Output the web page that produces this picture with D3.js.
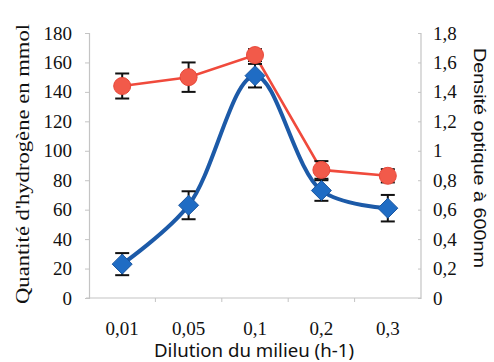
<!DOCTYPE html>
<html>
<head>
<meta charset="utf-8">
<script src="https://cdn.jsdelivr.net/npm/d3@7"></script>
<style>
  html, body { margin: 0; padding: 0; background: #fff; }
  svg { display: block; }
</style>
</head>
<body>
<script>
// Dilution rates (h-1)
const categories = ["0,01", "0,05", "0,1", "0,2", "0,3"];
// Hydrogen produced (mmol), left axis
const hydrogen = [144, 150, 165, 87, 83];
const hydrogenErr = [8.5, 10, 4, 6, 4.5];
// Optical density at 600 nm, right axis
const density = [0.23, 0.63, 1.51, 0.73, 0.61];
const densityErr = [0.075, 0.095, 0.08, 0.07, 0.09];
// Tick labels
const leftTicks = [0, 20, 40, 60, 80, 100, 120, 140, 160, 180];
const rightTicks = [0, 0.2, 0.4, 0.6, 0.8, 1, 1.2, 1.4, 1.6, 1.8];

const W = 494, H = 362;
const m = { left: 89, right: 73, top: 33, bottom: 64 };
const SERIF = "Liberation Serif, Tinos, serif";

const svg = d3.select("body").append("svg").attr("width", W).attr("height", H);

const x = d3.scaleBand().domain(categories).range([m.left, W - m.right]);
const yL = d3.scaleLinear().domain([0, 180]).range([H - m.bottom, m.top]);
const yR = d3.scaleLinear().domain([0, 1.8]).range([H - m.bottom, m.top]);
const cx = c => x(c) + x.bandwidth() / 2;

const axisColor = "#c4c4c4";

// Left axis
const gL = svg.append("g").attr("transform", `translate(${m.left},0)`)
  .call(d3.axisLeft(yL).tickValues(leftTicks).tickSize(4).tickPadding(13));
// Right axis (ticks pointing inward)
const gR = svg.append("g").attr("transform", `translate(${W - m.right},0)`)
  .call(d3.axisRight(yR).tickValues(rightTicks).tickSize(-3).tickPadding(12)
    .tickFormat(d => d3.format(".1f")(d).replace(".", ",").replace(",0", "")));
// Bottom axis: ticks on category boundaries
const gB = svg.append("g").attr("transform", `translate(0,${H - m.bottom})`)
  .call(d3.axisBottom(x).tickSize(0).tickPadding(24));
gB.selectAll(".bound").data(categories.slice(1)).enter().append("line")
  .attr("class", "bound")
  .attr("x1", d => x(d)).attr("x2", d => x(d))
  .attr("y1", 0).attr("y2", 4)
  .attr("stroke", axisColor);

[gL, gR, gB].forEach(g => {
  g.attr("font-family", SERIF).attr("font-size", 19);
  g.selectAll(".domain").attr("stroke", axisColor).attr("stroke-width", 1.2);
  g.selectAll(".tick line").attr("stroke", axisColor);
  g.selectAll("text").attr("fill", "#111");
});
gR.select(".domain").attr("d", `M0,${H - m.bottom + 1}V${m.top}`);
gB.select(".domain").attr("d", `M${m.left - 3},0H${W - m.right}`);

// Axis titles
svg.append("text")
  .attr("transform", `translate(29,${164}) rotate(-90)`)
  .attr("text-anchor", "middle")
  .attr("textLength", 280).attr("lengthAdjust", "spacingAndGlyphs")
  .attr("font-family", SERIF).attr("font-size", 19).attr("fill", "#111")
  .text("Quantité d'hydrogène en mmol");

svg.append("text")
  .attr("transform", `translate(474,${158}) rotate(90)`)
  .attr("text-anchor", "middle")
  .attr("textLength", 220).attr("lengthAdjust", "spacingAndGlyphs")
  .attr("font-family", "Liberation Sans, Arimo, sans-serif")
  .attr("font-size", 17).attr("fill", "#111")
  .text("Densité optique à 600nm");

svg.append("text")
  .attr("x", 254).attr("y", 357)
  .attr("text-anchor", "middle")
  .attr("textLength", 200).attr("lengthAdjust", "spacingAndGlyphs")
  .attr("font-family", "Noto Sans, sans-serif").attr("font-size", 18).attr("fill", "#111")
  .text("Dilution du milieu (h-1)");

// Series lines
const redLine = d3.line().x((d, i) => cx(categories[i])).y(d => yL(d));
const blueLine = d3.line().x((d, i) => cx(categories[i])).y(d => yR(d))
  .curve(d3.curveCatmullRom.alpha(0.5));

svg.append("path").datum(hydrogen).attr("d", redLine)
  .attr("fill", "none").attr("stroke", "#f04a3c").attr("stroke-width", 2.6);
svg.append("path").datum(density).attr("d", blueLine)
  .attr("fill", "none").attr("stroke", "#1c5aa8").attr("stroke-width", 4);

// Error bars
function errorBars(vals, errs, y) {
  const g = svg.append("g").attr("stroke", "#111").attr("stroke-width", 2);
  vals.forEach((v, i) => {
    const px = cx(categories[i]);
    const top = y(v + errs[i]), bot = y(v - errs[i]);
    g.append("line").attr("x1", px).attr("x2", px).attr("y1", top).attr("y2", bot);
    g.append("line").attr("x1", px - 7).attr("x2", px + 7).attr("y1", top).attr("y2", top);
    g.append("line").attr("x1", px - 7).attr("x2", px + 7).attr("y1", bot).attr("y2", bot);
  });
}
errorBars(density, densityErr, yR);
errorBars(hydrogen, hydrogenErr, yL);

// Markers
svg.append("g").selectAll("path").data(density).enter().append("path")
  .attr("transform", (d, i) => `translate(${cx(categories[i])},${yR(d)})`)
  .attr("d", "M0,-10L10,0L0,10L-10,0Z")
  .attr("fill", "#1f6cc4").attr("stroke", "#1a56a0").attr("stroke-width", 1);

svg.append("g").selectAll("circle").data(hydrogen).enter().append("circle")
  .attr("cx", (d, i) => cx(categories[i])).attr("cy", d => yL(d))
  .attr("r", 8.5)
  .attr("fill", "#f25a4a").attr("stroke", "#e8483a").attr("stroke-width", 1);
</script>
</body>
</html>
